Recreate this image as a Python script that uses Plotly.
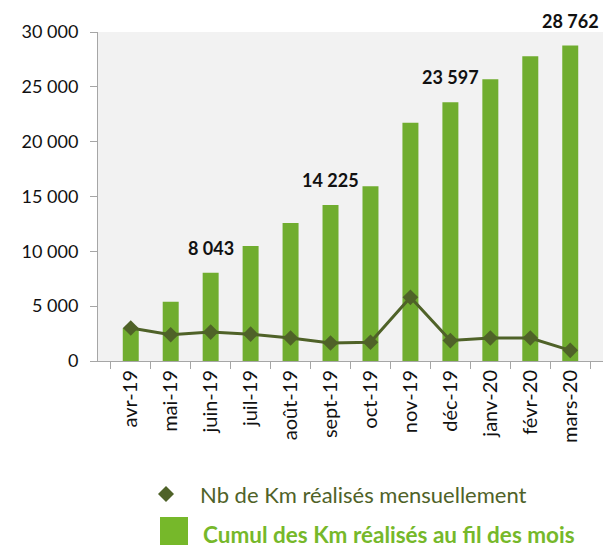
import plotly.graph_objects as go

months = ["avr-19", "mai-19", "juin-19", "juil-19", "août-19", "sept-19",
          "oct-19", "nov-19", "déc-19", "janv-20", "févr-20", "mars-20"]
monthly_km = [3010, 2400, 2633, 2450, 2095, 1637, 1705, 5805, 1862, 2093, 2100, 972]
cumul_km = [3010, 5410, 8043, 10493, 12588, 14225, 15930, 21735, 23597, 25690, 27790, 28762]
labelled_months = ["juin-19", "sept-19", "déc-19", "mars-20"]

monthly_name = "Nb de Km réalisés mensuellement"
cumul_name = "Cumul des Km réalisés au fil des mois"

BAR_GREEN = "#70AD2F"
LEGEND_GREEN = "#76B82A"
LINE_OLIVE = "#4F6228"
AXIS_GREY = "#A6A6A6"
FONT = "Lato, 'Open Sans', sans-serif"

# the page body adds an 8px offset, so the figure is 8px smaller than the window
W, H = 604, 539
M_L, M_R, M_T, M_B = 90, 9, 24, 186
PLOT_W = W - M_L - M_R
PLOT_H = H - M_T - M_B


def px(x):
    return (x - 8 - M_L) / PLOT_W


def py(y):
    return (H - M_B - (y - 8)) / PLOT_H


fig = go.Figure()
fig.add_bar(
    x=months,
    y=cumul_km,
    name=cumul_name,
    marker=dict(color=BAR_GREEN, line=dict(width=0)),
    showlegend=False,
)
fig.add_scatter(
    x=months,
    y=monthly_km,
    name=monthly_name,
    mode="lines+markers",
    line=dict(color=LINE_OLIVE, width=3),
    marker=dict(symbol="diamond", size=12, color=LINE_OLIVE),
    showlegend=False,
)

for month, value in zip(months, cumul_km):
    if month not in labelled_months:
        continue
    fig.add_annotation(
        x=month,
        y=value,
        yanchor="bottom",
        yshift=12,
        text=f"<b>{value:,}</b>".replace(",", " "),
        showarrow=False,
        font=dict(family=FONT, size=18, color="#111111"),
    )

# legend drawn by hand (big square, coloured texts)
fig.add_shape(
    type="path",
    xref="paper", yref="paper",
    xsizemode="pixel", ysizemode="pixel",
    xanchor=px(166), yanchor=py(494),
    path="M -8 0 L 0 8 L 8 0 L 0 -8 Z",
    fillcolor=LINE_OLIVE, line=dict(width=0),
)
fig.add_annotation(
    xref="paper", yref="paper",
    x=px(198), y=py(494),
    xanchor="left", yanchor="middle",
    text=monthly_name, showarrow=False,
    font=dict(family=FONT, size=22, color=LINE_OLIVE),
)
fig.add_shape(
    type="rect",
    xref="paper", yref="paper",
    xsizemode="pixel", ysizemode="pixel",
    xanchor=px(174), yanchor=py(531),
    x0=-14, x1=14, y0=-14, y1=14,
    fillcolor=LEGEND_GREEN, line=dict(width=0),
)
fig.add_annotation(
    xref="paper", yref="paper",
    x=px(201), y=py(534),
    xanchor="left", yanchor="middle",
    text=f"<b>{cumul_name}</b>", showarrow=False,
    font=dict(family=FONT, size=22.5, color=LEGEND_GREEN),
)

fig.update_layout(
    width=W,
    height=H,
    margin=dict(l=M_L, r=M_R, t=M_T, b=M_B),
    paper_bgcolor="white",
    plot_bgcolor="#F2F2F2",
    bargap=0.6,
    separators=", ",
    font=dict(family=FONT, size=16, color="#1A1A1A"),
)
fig.update_yaxes(
    range=[0, 30000],
    dtick=5000,
    tickformat=",d",
    showgrid=False,
    zeroline=False,
    showline=True,
    linecolor=AXIS_GREY,
    linewidth=1,
    ticks="outside",
    ticklen=7,
    tickcolor=AXIS_GREY,
    ticklabelstandoff=8,
    tickfont=dict(size=18, color="#111111"),
)
fig.update_xaxes(
    showgrid=False,
    showline=True,
    linecolor=AXIS_GREY,
    linewidth=1,
    ticks="outside",
    tickson="boundaries",
    ticklen=7,
    tickcolor=AXIS_GREY,
    tickangle=-90,
    tickfont=dict(size=20, color="#111111"),
)

fig.write_html("out.html")
